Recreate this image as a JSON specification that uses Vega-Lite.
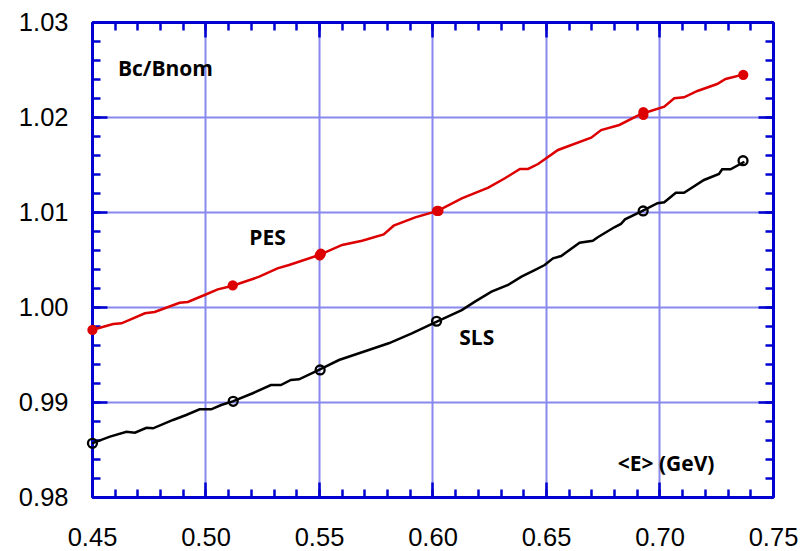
{
  "$schema": "https://vega.github.io/schema/vega-lite/v6.json",
  "autosize": "none",
  "width": 681,
  "height": 475,
  "padding": {"left": 92, "top": 22, "right": 32, "bottom": 54},
  "background": "white",
  "config": {
    "view": {"stroke": null},
    "axis": {
      "domainColor": "#0000d0",
      "domainWidth": 3,
      "tickColor": "#0000d0",
      "tickWidth": 2.5,
      "gridColor": "#8888ee",
      "gridWidth": 2,
      "labelFont": "Liberation Sans",
      "labelFontSize": 25.5,
      "labelColor": "black",
      "title": null
    }
  },
  "datasets": {
    "pesLine": [
      {"x": 0.45, "y": 0.99758}, {"x": 0.4593, "y": 0.99821}, {"x": 0.4630, "y": 0.99828},
      {"x": 0.4733, "y": 0.99934}, {"x": 0.4776, "y": 0.99947}, {"x": 0.4886, "y": 1.00045},
      {"x": 0.4922, "y": 1.00053}, {"x": 0.4996, "y": 1.00126}, {"x": 0.5054, "y": 1.00186},
      {"x": 0.5120, "y": 1.00224}, {"x": 0.5237, "y": 1.00319}, {"x": 0.5317, "y": 1.00407},
      {"x": 0.5368, "y": 1.00442}, {"x": 0.5500, "y": 1.00547}, {"x": 0.5602, "y": 1.00653},
      {"x": 0.5690, "y": 1.00698}, {"x": 0.5785, "y": 1.00765}, {"x": 0.5829, "y": 1.00856},
      {"x": 0.5924, "y": 1.00944}, {"x": 0.6023, "y": 1.01011}, {"x": 0.6129, "y": 1.01144},
      {"x": 0.6246, "y": 1.01256}, {"x": 0.6319, "y": 1.01355}, {"x": 0.6385, "y": 1.01453},
      {"x": 0.6421, "y": 1.01453}, {"x": 0.6465, "y": 1.01505}, {"x": 0.6553, "y": 1.01653},
      {"x": 0.6699, "y": 1.01782}, {"x": 0.6743, "y": 1.01863}, {"x": 0.6823, "y": 1.01916},
      {"x": 0.6904, "y": 1.02014}, {"x": 0.6930, "y": 1.02039}, {"x": 0.7021, "y": 1.02108},
      {"x": 0.7065, "y": 1.02197}, {"x": 0.7108, "y": 1.02207}, {"x": 0.7167, "y": 1.02274},
      {"x": 0.7254, "y": 1.02347}, {"x": 0.7291, "y": 1.02400}, {"x": 0.7372, "y": 1.02449}
    ],
    "slsLine": [
      {"x": 0.45, "y": 0.98565}, {"x": 0.4579, "y": 0.98635}, {"x": 0.4652, "y": 0.98687},
      {"x": 0.4689, "y": 0.98677}, {"x": 0.4740, "y": 0.98729}, {"x": 0.4769, "y": 0.98723},
      {"x": 0.4857, "y": 0.98811}, {"x": 0.4915, "y": 0.98863}, {"x": 0.4974, "y": 0.98923},
      {"x": 0.5025, "y": 0.98923}, {"x": 0.5069, "y": 0.98968}, {"x": 0.5120, "y": 0.99007},
      {"x": 0.5208, "y": 0.99092}, {"x": 0.5288, "y": 0.99179}, {"x": 0.5332, "y": 0.99179},
      {"x": 0.5376, "y": 0.99232}, {"x": 0.5412, "y": 0.99239}, {"x": 0.5500, "y": 0.99337},
      {"x": 0.5588, "y": 0.99442}, {"x": 0.5719, "y": 0.99547}, {"x": 0.5807, "y": 0.99618},
      {"x": 0.5909, "y": 0.99723}, {"x": 0.6019, "y": 0.99845}, {"x": 0.6129, "y": 0.99968},
      {"x": 0.6187, "y": 1.00056}, {"x": 0.6260, "y": 1.00161}, {"x": 0.6333, "y": 1.00232},
      {"x": 0.6392, "y": 1.00319}, {"x": 0.6450, "y": 1.00389}, {"x": 0.6494, "y": 1.00442},
      {"x": 0.6531, "y": 1.00513}, {"x": 0.6567, "y": 1.00537}, {"x": 0.6648, "y": 1.00677},
      {"x": 0.6706, "y": 1.00698}, {"x": 0.6728, "y": 1.00734}, {"x": 0.6801, "y": 1.00839},
      {"x": 0.6830, "y": 1.00874}, {"x": 0.6848, "y": 1.00923}, {"x": 0.6925, "y": 1.01011},
      {"x": 0.6991, "y": 1.01092}, {"x": 0.7021, "y": 1.01102}, {"x": 0.7072, "y": 1.01203},
      {"x": 0.7108, "y": 1.01203}, {"x": 0.7196, "y": 1.01337}, {"x": 0.7262, "y": 1.01400},
      {"x": 0.7276, "y": 1.01449}, {"x": 0.7313, "y": 1.01449}, {"x": 0.7374, "y": 1.01529}
    ],
    "pesPts": [
      {"x": 0.4502, "y": 0.99758}, {"x": 0.5120, "y": 1.00228},
      {"x": 0.5503, "y": 1.00543}, {"x": 0.5508, "y": 1.00562},
      {"x": 0.6020, "y": 1.01013}, {"x": 0.6026, "y": 1.01013},
      {"x": 0.6929, "y": 1.02022}, {"x": 0.6929, "y": 1.02052},
      {"x": 0.7369, "y": 1.02444}
    ],
    "slsPts": [
      {"x": 0.4502, "y": 0.98565}, {"x": 0.5122, "y": 0.99007},
      {"x": 0.5505, "y": 0.99337}, {"x": 0.6018, "y": 0.99850},
      {"x": 0.6928, "y": 1.01011}, {"x": 0.7368, "y": 1.01540}
    ],
    "labels": [
      {"x": 0.4614, "y": 1.02495, "t": "Bc/Bnom"},
      {"x": 0.5193, "y": 1.00716, "t": "PES"},
      {"x": 0.6118, "y": 0.99663, "t": "SLS"},
      {"x": 0.6816, "y": 0.98334, "t": "<E> (GeV)"}
    ]
  },
  "resolve": {"axis": {"x": "independent", "y": "independent"}},
  "layer": [
    {
      "data": {"name": "pesLine"},
      "mark": {"type": "line", "color": "#dd0000", "strokeWidth": 2.5},
      "encoding": {
        "x": {"field": "x", "type": "quantitative",
          "scale": {"domain": [0.45, 0.75], "nice": false, "zero": false},
          "axis": {"orient": "bottom", "values": [0.45, 0.5, 0.55, 0.6, 0.65, 0.7, 0.75], "format": ".2f",
            "grid": true, "ticks": false, "domain": true, "labelBaseline": "alphabetic", "labelPadding": 48, "labelFlush": false, "labelOverlap": false}},
        "y": {"field": "y", "type": "quantitative",
          "scale": {"domain": [0.98, 1.03], "nice": false, "zero": false},
          "axis": {"orient": "left", "values": [0.98, 0.99, 1.0, 1.01, 1.02, 1.03], "format": ".2f",
            "grid": true, "ticks": false, "domain": true, "labelPadding": 24, "labelFlush": false, "labelOverlap": false}}
      }
    },
    {
      "data": {"name": "slsLine"},
      "mark": {"type": "line", "color": "black", "strokeWidth": 2.5},
      "encoding": {
        "x": {"field": "x", "type": "quantitative",
          "axis": {"orient": "bottom", "values": [0.45,0.46,0.47,0.48,0.49,0.5,0.51,0.52,0.53,0.54,0.55,0.56,0.57,0.58,0.59,0.6,0.61,0.62,0.63,0.64,0.65,0.66,0.67,0.68,0.69,0.7,0.71,0.72,0.73,0.74,0.75],
            "labels": false, "grid": false, "domain": false, "tickSize": -8}},
        "y": {"field": "y", "type": "quantitative",
          "axis": {"orient": "left", "values": [0.98,0.982,0.984,0.986,0.988,0.99,0.992,0.994,0.996,0.998,1.0,1.002,1.004,1.006,1.008,1.01,1.012,1.014,1.016,1.018,1.02,1.022,1.024,1.026,1.028,1.03],
            "labels": false, "grid": false, "domain": false, "tickSize": -8}}
      }
    },
    {
      "data": {"name": "pesPts"},
      "mark": {"type": "point", "filled": true, "color": "#dd0000", "size": 105, "opacity": 1},
      "encoding": {
        "x": {"field": "x", "type": "quantitative",
          "axis": {"orient": "bottom", "values": [0.45, 0.5, 0.55, 0.6, 0.65, 0.7, 0.75],
            "labels": false, "grid": false, "domain": false, "tickSize": -15}},
        "y": {"field": "y", "type": "quantitative",
          "axis": {"orient": "left", "values": [0.98, 0.99, 1.0, 1.01, 1.02, 1.03],
            "labels": false, "grid": false, "domain": false, "tickSize": -15}}
      }
    },
    {
      "data": {"name": "slsPts"},
      "mark": {"type": "point", "filled": false, "color": "black", "size": 80, "strokeWidth": 2.3, "opacity": 1},
      "encoding": {
        "x": {"field": "x", "type": "quantitative",
          "axis": {"orient": "top", "values": [0.45,0.46,0.47,0.48,0.49,0.5,0.51,0.52,0.53,0.54,0.55,0.56,0.57,0.58,0.59,0.6,0.61,0.62,0.63,0.64,0.65,0.66,0.67,0.68,0.69,0.7,0.71,0.72,0.73,0.74,0.75],
            "labels": false, "grid": false, "domain": true, "tickSize": -8}},
        "y": {"field": "y", "type": "quantitative",
          "axis": {"orient": "right", "values": [0.98,0.982,0.984,0.986,0.988,0.99,0.992,0.994,0.996,0.998,1.0,1.002,1.004,1.006,1.008,1.01,1.012,1.014,1.016,1.018,1.02,1.022,1.024,1.026,1.028,1.03],
            "labels": false, "grid": false, "domain": true, "tickSize": -8}}
      }
    },
    {
      "data": {"name": "labels"},
      "mark": {"type": "text", "align": "left", "baseline": "middle", "font": "Open Sans", "fontWeight": "bold", "fontSize": 21, "color": "black"},
      "encoding": {
        "x": {"field": "x", "type": "quantitative",
          "axis": {"orient": "top", "values": [0.45, 0.5, 0.55, 0.6, 0.65, 0.7, 0.75],
            "labels": false, "grid": false, "domain": false, "tickSize": -15}},
        "y": {"field": "y", "type": "quantitative",
          "axis": {"orient": "right", "values": [0.98, 0.99, 1.0, 1.01, 1.02, 1.03],
            "labels": false, "grid": false, "domain": false, "tickSize": -15}},
        "text": {"field": "t", "type": "nominal"}
      }
    }
  ]
}
